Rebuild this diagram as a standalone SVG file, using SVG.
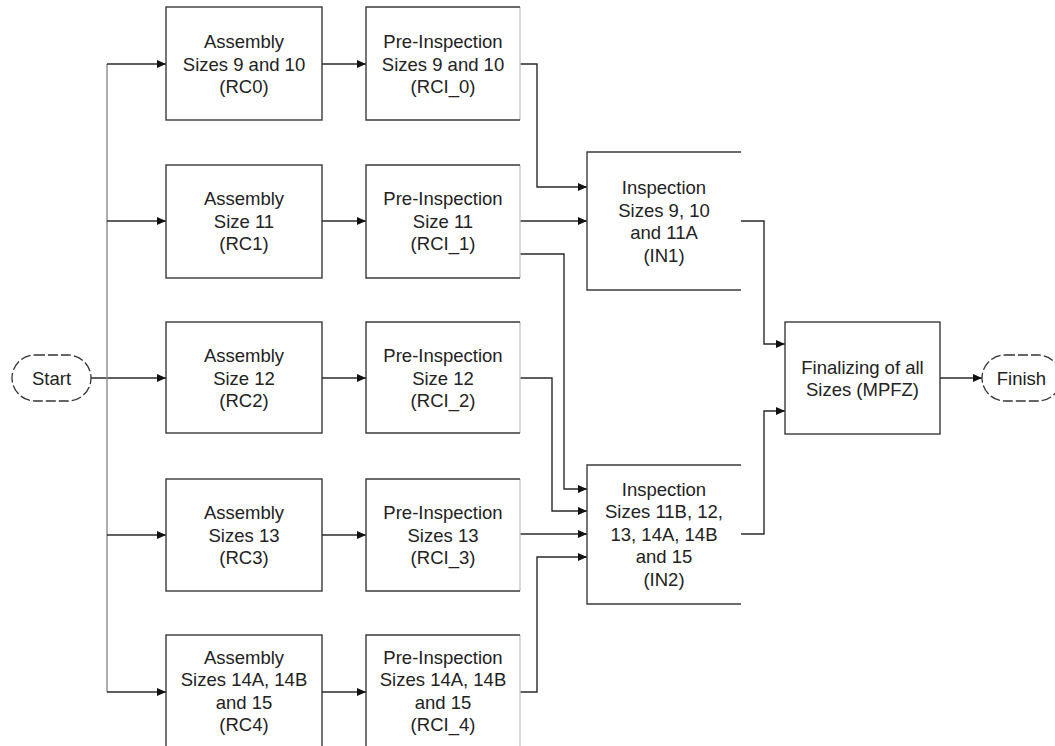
<svg xmlns="http://www.w3.org/2000/svg" width="1055" height="746" viewBox="0 0 1055 746">
  <style>
    .lbl { font-family: "Liberation Sans", Arial, sans-serif; font-size: 18.5px; fill: #222; text-anchor: middle; }
    .edge { fill: none; stroke: #3a3a3a; stroke-width: 1.4; }
    .side { fill: none; stroke: #c8c8c8; stroke-width: 1.4; }
    .box { fill: #fff; stroke: #3a3a3a; stroke-width: 1.4; }
    .term { fill: #fff; stroke: #333; stroke-width: 1.3; stroke-dasharray: 10 3; }
    .wire { fill: none; stroke: #2a2a2a; stroke-width: 1.4; }
    .bus { fill: none; stroke: #8a8a8a; stroke-width: 1.4; }
  </style>
  <defs>
    <marker id="arr" markerWidth="10" markerHeight="8" refX="9" refY="4" orient="auto" markerUnits="userSpaceOnUse">
      <path d="M0,0 L9,4 L0,8 Z" fill="#111"/>
    </marker>
  </defs>
  <rect width="1055" height="746" fill="#fff"/>

  <!-- connectors -->
  <g id="connectors">
    <!-- start fan-out -->
    <path class="wire" d="M91,378 H166" marker-end="url(#arr)"/>
    <path class="bus" d="M107,64 V692"/>
    <path class="wire" d="M107,64 H166" marker-end="url(#arr)"/>
    <path class="wire" d="M107,221 H166" marker-end="url(#arr)"/>
    <path class="wire" d="M107,535 H166" marker-end="url(#arr)"/>
    <path class="wire" d="M107,692 H166" marker-end="url(#arr)"/>
    <!-- assembly to pre-inspection -->
    <path class="wire" d="M322,64 H366" marker-end="url(#arr)"/>
    <path class="wire" d="M322,221 H366" marker-end="url(#arr)"/>
    <path class="wire" d="M322,378 H366" marker-end="url(#arr)"/>
    <path class="wire" d="M322,535 H366" marker-end="url(#arr)"/>
    <path class="wire" d="M322,692 H366" marker-end="url(#arr)"/>
    <!-- pre-inspection to inspection -->
    <path class="wire" d="M520,64 H537 V187 H587" marker-end="url(#arr)"/>
    <path class="wire" d="M520,221 H587" marker-end="url(#arr)"/>
    <path class="wire" d="M520,254 H564 V489 H587" marker-end="url(#arr)"/>
    <path class="wire" d="M520,378 H552 V511 H587" marker-end="url(#arr)"/>
    <path class="wire" d="M520,534 H587" marker-end="url(#arr)"/>
    <path class="wire" d="M520,692 H537 V557 H587" marker-end="url(#arr)"/>
    <!-- inspection to finalizing -->
    <path class="wire" d="M741,221 H764 V344 H785" marker-end="url(#arr)"/>
    <path class="wire" d="M741,534 H764 V411 H785" marker-end="url(#arr)"/>
    <!-- finalizing to finish -->
    <path class="wire" d="M940,378 H982" marker-end="url(#arr)"/>
  </g>

  <!-- terminals -->
  <g id="start">
    <rect class="term" x="12" y="355" width="79" height="46" rx="23"/>
    <text class="lbl" x="51.5" y="384.5">Start</text>
  </g>
  <g id="finish">
    <rect class="term" x="982" y="355" width="79" height="46" rx="23"/>
    <text class="lbl" x="1021.5" y="384.5">Finish</text>
  </g>

  <!-- assembly stations -->
  <g id="rc0">
    <rect class="box" x="166" y="7" width="156" height="113"/>
    <text class="lbl" x="244" y="48">Assembly</text>
    <text class="lbl" x="244" y="70.5">Sizes 9 and 10</text>
    <text class="lbl" x="244" y="93">(RC0)</text>
  </g>
  <g id="rc1">
    <rect class="box" x="166" y="165" width="156" height="113"/>
    <text class="lbl" x="244" y="205">Assembly</text>
    <text class="lbl" x="244" y="227.5">Size 11</text>
    <text class="lbl" x="244" y="250">(RC1)</text>
  </g>
  <g id="rc2">
    <rect class="box" x="166" y="322" width="156" height="111"/>
    <text class="lbl" x="244" y="362">Assembly</text>
    <text class="lbl" x="244" y="384.5">Size 12</text>
    <text class="lbl" x="244" y="407">(RC2)</text>
  </g>
  <g id="rc3">
    <rect class="box" x="166" y="479" width="156" height="112"/>
    <text class="lbl" x="244" y="519">Assembly</text>
    <text class="lbl" x="244" y="541.5">Sizes 13</text>
    <text class="lbl" x="244" y="564">(RC3)</text>
  </g>
  <g id="rc4">
    <rect class="box" x="166" y="635" width="156" height="115"/>
    <text class="lbl" x="244" y="663.5">Assembly</text>
    <text class="lbl" x="244" y="686">Sizes 14A, 14B</text>
    <text class="lbl" x="244" y="708.5">and 15</text>
    <text class="lbl" x="244" y="731">(RC4)</text>
  </g>

  <!-- pre-inspection stations (faint right side) -->
  <g id="rci0">
    <rect x="366" y="7" width="154" height="113" fill="#fff"/>
    <path class="side" d="M520,7 V120"/>
    <path class="edge" d="M520,7 H366 V120 H520"/>
    <text class="lbl" x="443" y="48">Pre-Inspection</text>
    <text class="lbl" x="443" y="70.5">Sizes 9 and 10</text>
    <text class="lbl" x="443" y="93">(RCI_0)</text>
  </g>
  <g id="rci1">
    <rect x="366" y="165" width="154" height="113" fill="#fff"/>
    <path class="side" d="M520,165 V278"/>
    <path class="edge" d="M520,165 H366 V278 H520"/>
    <text class="lbl" x="443" y="205">Pre-Inspection</text>
    <text class="lbl" x="443" y="227.5">Size 11</text>
    <text class="lbl" x="443" y="250">(RCI_1)</text>
  </g>
  <g id="rci2">
    <rect x="366" y="322" width="154" height="111" fill="#fff"/>
    <path class="side" d="M520,322 V433"/>
    <path class="edge" d="M520,322 H366 V433 H520"/>
    <text class="lbl" x="443" y="362">Pre-Inspection</text>
    <text class="lbl" x="443" y="384.5">Size 12</text>
    <text class="lbl" x="443" y="407">(RCI_2)</text>
  </g>
  <g id="rci3">
    <rect x="366" y="479" width="154" height="112" fill="#fff"/>
    <path class="side" d="M520,479 V591"/>
    <path class="edge" d="M520,479 H366 V591 H520"/>
    <text class="lbl" x="443" y="519">Pre-Inspection</text>
    <text class="lbl" x="443" y="541.5">Sizes 13</text>
    <text class="lbl" x="443" y="564">(RCI_3)</text>
  </g>
  <g id="rci4">
    <rect x="366" y="635" width="154" height="115" fill="#fff"/>
    <path class="side" d="M520,635 V750"/>
    <path class="edge" d="M520,635 H366 V750"/>
    <text class="lbl" x="443" y="663.5">Pre-Inspection</text>
    <text class="lbl" x="443" y="686">Sizes 14A, 14B</text>
    <text class="lbl" x="443" y="708.5">and 15</text>
    <text class="lbl" x="443" y="731">(RCI_4)</text>
  </g>

  <!-- inspection stations (open right side) -->
  <g id="in1">
    <rect x="587" y="152" width="154" height="138" fill="#fff"/>
    <path class="edge" d="M741,152 H587 V290 H741"/>
    <text class="lbl" x="664" y="194">Inspection</text>
    <text class="lbl" x="664" y="216.5">Sizes 9, 10</text>
    <text class="lbl" x="664" y="239">and 11A</text>
    <text class="lbl" x="664" y="261.5">(IN1)</text>
  </g>
  <g id="in2">
    <rect x="587" y="465" width="154" height="139" fill="#fff"/>
    <path class="edge" d="M741,465 H587 V604 H741"/>
    <text class="lbl" x="664" y="495.5">Inspection</text>
    <text class="lbl" x="664" y="518">Sizes 11B, 12,</text>
    <text class="lbl" x="664" y="540.5">13, 14A, 14B</text>
    <text class="lbl" x="664" y="563">and 15</text>
    <text class="lbl" x="664" y="586">(IN2)</text>
  </g>

  <!-- finalizing -->
  <g id="mpfz">
    <rect class="box" x="785" y="322" width="155" height="112"/>
    <text class="lbl" x="862.5" y="373.5">Finalizing of all</text>
    <text class="lbl" x="862.5" y="396">Sizes (MPFZ)</text>
  </g>
</svg>
